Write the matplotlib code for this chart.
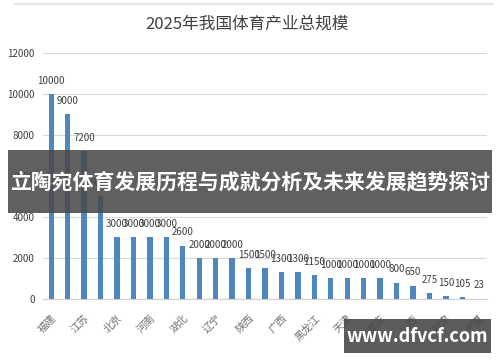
import numpy as np
import matplotlib.pyplot as plt
import matplotlib.patches as mpatches

plt.rcParams['font.family'] = ['Noto Sans CJK SC', 'DejaVu Sans']

# 数据
provinces = ['福建', '', '江苏', '', '北京', '', '河南', '', '湖北', '', '辽宁', '', '陕西', '',
             '广西', '', '黑龙江', '', '天津', '', '重庆', '', '山西', '', '甘肃', '', '宁夏']
values = [10000, 9000, 7200, 5000, 3000, 3000, 3000, 3000, 2600, 2000, 2000, 2000, 1500, 1500,
          1300, 1300, 1150, 1000, 1000, 1000, 1000, 800, 650, 275, 150, 105, 23]
value_labels = [str(v) for v in values]
y_ticks = [0, 2000, 4000, 6000, 8000, 10000, 12000]

fig = plt.figure(figsize=(5, 3.62), dpi=100)
ax = fig.add_axes([0.086, 0.174, 0.888, 0.68])

x = np.arange(len(values))
ax.bar(x, values, width=0.32, color='#4f86bd', zorder=3)
for xi, v, lab in zip(x, values, value_labels):
    ax.text(xi, v + 400, lab, ha='center', va='bottom', fontsize=7, color='#404040')

ax.set_xlim(-0.5, len(values) - 0.5)
ax.set_ylim(0, 12000)
ax.set_yticks(y_ticks)
ax.set_yticklabels([str(t) for t in y_ticks], fontsize=7, color='#404040')
ax.set_xticks(x)
ax.set_xticklabels(provinces, rotation=45, ha='right', rotation_mode='anchor',
                   fontsize=7.5, color='#707070')
ax.tick_params(axis='y', length=0, pad=6)
ax.tick_params(axis='x', length=0, pad=10)
ax.grid(axis='y', color='#d9d9d9', linewidth=0.8, zorder=0)
for s in ['top', 'right', 'left']:
    ax.spines[s].set_visible(False)
ax.spines['bottom'].set_color('#d0d0d0')

fig.text(0.494, 0.934, '2025年我国体育产业总规模', ha='center', va='center',
         fontsize=12, color='#404040')

# 顶部细线
fig.add_artist(plt.Line2D([0.03, 0.985], [0.99, 0.99], color='#e6e6e6', linewidth=1.5))

# 横幅
fig.patches.append(mpatches.Rectangle((0.016, 1 - 213 / 362), 0.968, 63 / 362,
                                      transform=fig.transFigure, facecolor='#4a4a4a',
                                      alpha=0.88, zorder=10))
fig.text(0.5, 1 - 182 / 362, '立陶宛体育发展历程与成就分析及未来发展趋势探讨', ha='center',
         va='center', fontsize=15, color='white', fontweight='bold', zorder=11)

# 水印
fig.patches.append(mpatches.Rectangle((344 / 500, 1 - 353 / 362), 147 / 500, 34 / 362,
                                      transform=fig.transFigure, facecolor='#4a4a4a',
                                      alpha=0.9, zorder=10))
fig.text(417.5 / 500, 1 - 336 / 362, 'www.dfvcf.com', ha='center', va='center',
         fontsize=13, color='white', fontweight='bold', zorder=11)

fig.savefig('out.png', dpi=100)
